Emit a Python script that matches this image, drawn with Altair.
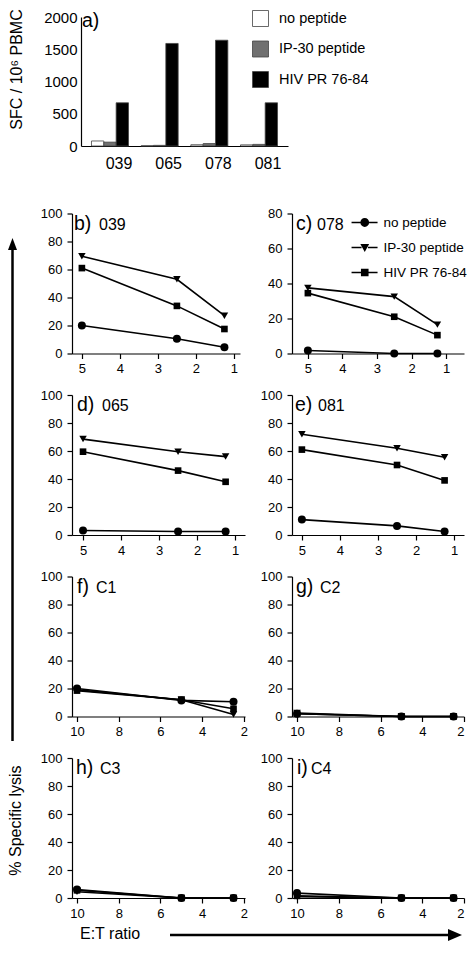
import altair as alt
import pandas as pd

FONT = "Liberation Sans"

# ---- panel a) ELISpot bars ----
donors = ["039", "065", "078", "081"]
treatments = ["no peptide", "IP-30 peptide", "HIV PR 76-84"]
sfc_none = [78, 5, 20, 18]
sfc_ip30 = [60, 10, 38, 25]
sfc_hiv = [670, 1590, 1640, 670]
sfc_ticks = [0, 500, 1000, 1500, 2000]

# ---- cytotoxicity panels ----
series = ["no peptide", "IP-30 peptide", "HIV PR 76-84"]
et_donor = [5, 2.5, 1.25]
et_ctrl = [10, 5, 2.5]
ticks_donor = [5, 4, 3, 2, 1]
ticks_ctrl = [10, 8, 6, 4, 2]

b_none = [20, 10.5, 4.5]
b_ip30 = [69.5, 53, 27]
b_hiv = [61, 34, 17.5]

c_none = [1.7, 0, 0]
c_ip30 = [37.5, 32.5, 16.5]
c_hiv = [34.5, 21, 10.5]

d_none = [3.2, 2.5, 2.5]
d_ip30 = [68.5, 59.5, 56]
d_hiv = [59.5, 46, 38]

e_none = [11, 6.5, 2.5]
e_ip30 = [72, 62, 55.5]
e_hiv = [61, 50, 39]

f_none = [20, 11.5, 10.5]
f_ip30 = [19, 12, 1.5]
f_hiv = [18.5, 12, 5.5]

g_none = [2, 0, 0]
g_ip30 = [2.5, 0, 0]
g_hiv = [2, 0, 0]

h_none = [6, 0, 0]
h_ip30 = [4.5, 0, 0]
h_hiv = [5.5, 0, 0]

i_none = [3.5, 0, 0]
i_ip30 = [1, 0, 0]
i_hiv = [1.5, 0, 0]

one = pd.DataFrame({"k": [0]})

BAR_H = 158.5   # bar cell height
BAR_TOP = 4     # plot top inside the cell
BAR_PLOT = 129  # plot height


def label_layers(letter, ident, letter_dx, ident_dx, base_y):
    a = alt.Chart(one).mark_text(text=letter, font=FONT, fontSize=19.5, align="left",
                                 baseline="alphabetic", color="black").encode(
        x=alt.value(letter_dx), y=alt.value(base_y))
    out = [a]
    if ident:
        b = alt.Chart(one).mark_text(text=ident, font=FONT, fontSize=16, align="left",
                                     baseline="alphabetic", color="black").encode(
            x=alt.value(ident_dx), y=alt.value(base_y))
        out.append(b)
    return out


def bar_chart():
    rows = []
    for i, d in enumerate(donors):
        for t, vals in zip(treatments, [sfc_none, sfc_ip30, sfc_hiv]):
            rows.append({"donor": d, "treat": t, "sfc": vals[i]})
    df = pd.DataFrame(rows)
    bottom = BAR_TOP + BAR_PLOT
    bars = alt.Chart(df).mark_bar(stroke="#444444", strokeWidth=0.8).encode(
        x=alt.X("donor:N", sort=donors,
                scale=alt.Scale(range=[9, 216], paddingInner=0.255, paddingOuter=0.211),
                axis=alt.Axis(title=None, labelAngle=0, labelFontSize=16, labelOffset=9,
                              labelPadding=9, ticks=False, offset=-(BAR_H - bottom))),
        xOffset=alt.XOffset("treat:N", scale=alt.Scale(domain=treatments)),
        y=alt.Y("sfc:Q", scale=alt.Scale(domain=[0, 2000], range=[bottom, BAR_TOP], nice=False),
                axis=alt.Axis(values=sfc_ticks, format="d", ticks=False, labelFontSize=15,
                              labelPadding=4, offset=-9, title="SFC / 10⁶ PBMC",
                              titleFontSize=16, titleFontWeight="normal", titleAngle=270,
                              titleX=-60, titleY=56, titleBaseline="alphabetic",
                              titleAlign="center")),
        color=alt.Color("treat:N",
                        scale=alt.Scale(domain=treatments, range=["#ffffff", "#707070", "#000000"]),
                        legend=alt.Legend(orient="none", legendX=180, legendY=-3, title=None,
                                          symbolType="square", symbolSize=256,
                                          symbolStrokeColor="#444444", symbolStrokeWidth=0.8,
                                          labelFontSize=14.5, labelOffset=10, rowPadding=9.5,
                                          padding=0)),
    )
    layers = [bars] + label_layers("a)", None, 10, 0, 13.5)
    return alt.layer(*layers).properties(width=173, height=BAR_H)


def panel(letter, ident, et, none, ip, hiv, xdom, xticks, ymax, width,
          letter_dx, ident_dx, legend=False, extras=None):
    df = pd.DataFrame({
        "et": et * 3,
        "lysis": none + ip + hiv,
        "series": [s for s in series for _ in et],
    })
    x = alt.X("et:Q", scale=alt.Scale(domain=xdom, nice=False, zero=False),
              axis=alt.Axis(values=xticks, format="d", title=None, tickSize=5,
                            labelFontSize=13, labelPadding=4))
    y = alt.Y("lysis:Q", scale=alt.Scale(domain=[0, ymax], nice=False),
              axis=alt.Axis(values=list(range(0, ymax + 1, 20)), title=None, tickSize=5,
                            labelFontSize=13, labelPadding=5))
    base = alt.Chart(df)
    layers = [base.mark_line(color="black", strokeWidth=1.6).encode(x=x, y=y, detail="series:N")]
    for s, shp, size in zip(series, ["circle", "triangle-down", "square"], [64, 56, 44]):
        layers.append(
            base.transform_filter(alt.datum.series == s)
            .mark_point(shape=shp, filled=True, color="black", size=size, opacity=1)
            .encode(x=x, y=y))
    layers += label_layers(letter, ident, letter_dx, ident_dx, 16)
    if legend:
        seg = "M-3.3,-0.18H-0.8V0.18H-3.3Z M0.8,-0.18H3.2V0.18H0.8Z "
        paths = [
            seg + "M1.1,0A1.1,1.1,0,1,1,-1.1,0A1.1,1.1,0,1,1,1.1,0Z",
            seg + "M-1.1,-0.9L1.1,-0.9L0,1.1Z",
            seg + "M-0.95,-0.95H0.95V0.95H-0.95Z",
        ]
        leg = (alt.Chart(pd.DataFrame({"series": series}))
               .transform_filter("false")
               .mark_point(filled=True, color="black", opacity=1)
               .encode(shape=alt.Shape("series:N",
                                       scale=alt.Scale(domain=series, range=paths),
                                       legend=alt.Legend(orient="none", legendX=66, legendY=2.25,
                                                         title=None, symbolSize=64,
                                                         symbolFillColor="black",
                                                         symbolStrokeWidth=0,
                                                         labelFontSize=13.5, labelOffset=12,
                                                         labelLimit=300,
                                                         rowPadding=10, padding=0))))
        layers.append(leg)
    if extras:
        layers += extras
    return alt.layer(*layers).properties(width=width, height=140)


# Shared decorations: big axis arrows and titles (drawn from panel h, whose plot
# origin sits at page x=72, y=757.5)
vline = alt.Chart(one).mark_rule(color="black", strokeWidth=2.5).encode(
    x=alt.value(-59.5), y=alt.value(-509), y2=alt.value(-17))
vhead = alt.Chart(one).mark_point(shape="M0,-1L0.75,1L-0.75,1Z", filled=True, color="black",
                                  opacity=1, size=144).encode(x=alt.value(-59.5), y=alt.value(-514))
ylab = alt.Chart(one).mark_text(text="% Specific lysis", angle=270, fontSize=16, font=FONT,
                                align="center", baseline="middle", color="black").encode(
    x=alt.value(-56), y=alt.value(62.5))
hline = alt.Chart(one).mark_rule(color="black", strokeWidth=2.5).encode(
    x=alt.value(98), x2=alt.value(378), y=alt.value(177))
hhead = alt.Chart(one).mark_point(shape="M1,0L-1,-0.85L-1,0.85Z", filled=True, color="black",
                                  opacity=1, size=196).encode(x=alt.value(383), y=alt.value(177))
xlab = alt.Chart(one).mark_text(text="E:T ratio", fontSize=16, font=FONT, align="left",
                                baseline="alphabetic", color="black").encode(
    x=alt.value(8), y=alt.value(181))

blank = alt.Chart(one).mark_point(opacity=0).encode(
    x=alt.value(0), y=alt.value(0)).properties(width=1, height=1)

pb = panel("b)", "039", et_donor, b_none, b_ip30, b_hiv, [5.26, 0.84], ticks_donor, 100, 168, 2, 27)
pc = panel("c)", "078", et_donor, c_none, c_ip30, c_hiv, [5.46, 0.48], ticks_donor, 80, 172, 4, 25,
           legend=True)
pd_ = panel("d)", "065", et_donor, d_none, d_ip30, d_hiv, [5.29, 0.74], ticks_donor, 100, 173, 5, 30)
pe = panel("e)", "081", et_donor, e_none, e_ip30, e_hiv, [5.26, 0.74], ticks_donor, 100, 172, 3, 26)
pf = panel("f)", "C1", et_ctrl, f_none, f_ip30, f_hiv, [10.24, 1.95], ticks_ctrl, 100, 173, 5, 24)
pg = panel("g)", "C2", et_ctrl, g_none, g_ip30, g_hiv, [10.24, 2.0], ticks_ctrl, 100, 172, 4, 28)
ph = panel("h)", "C3", et_ctrl, h_none, h_ip30, h_hiv, [10.24, 1.95], ticks_ctrl, 100, 173, 4, 28,
           extras=[vline, vhead, ylab, hline, hhead, xlab])
pi = panel("i)", "C4", et_ctrl, i_none, i_ip30, i_hiv, [10.24, 2.0], ticks_ctrl, 100, 172, 5, 19)

# Fixed-size canvas: 459 x 934 px, grid origin at page (72, 13)
chart = alt.concat(
    bar_chart(), blank, pb, pc, pd_, pe, pf, pg, ph, pi,
    columns=2, spacing={"row": 41.5, "column": 47}, bounds="flush", align="each",
).resolve_scale(color="independent", shape="independent").properties(
    autosize=alt.AutoSizeParams(type="none"),
    padding={"left": 64, "top": 5, "right": 395, "bottom": 929},
).configure_axis(
    labelFont=FONT, titleFont=FONT, labelColor="black", titleColor="black",
    domainColor="black", tickColor="black", grid=False, domainWidth=1.2, tickWidth=1.2,
).configure_legend(labelFont=FONT, labelColor="black").configure_view(stroke=None)

chart.save("out.html", embed_options={"renderer": "svg", "actions": False})
